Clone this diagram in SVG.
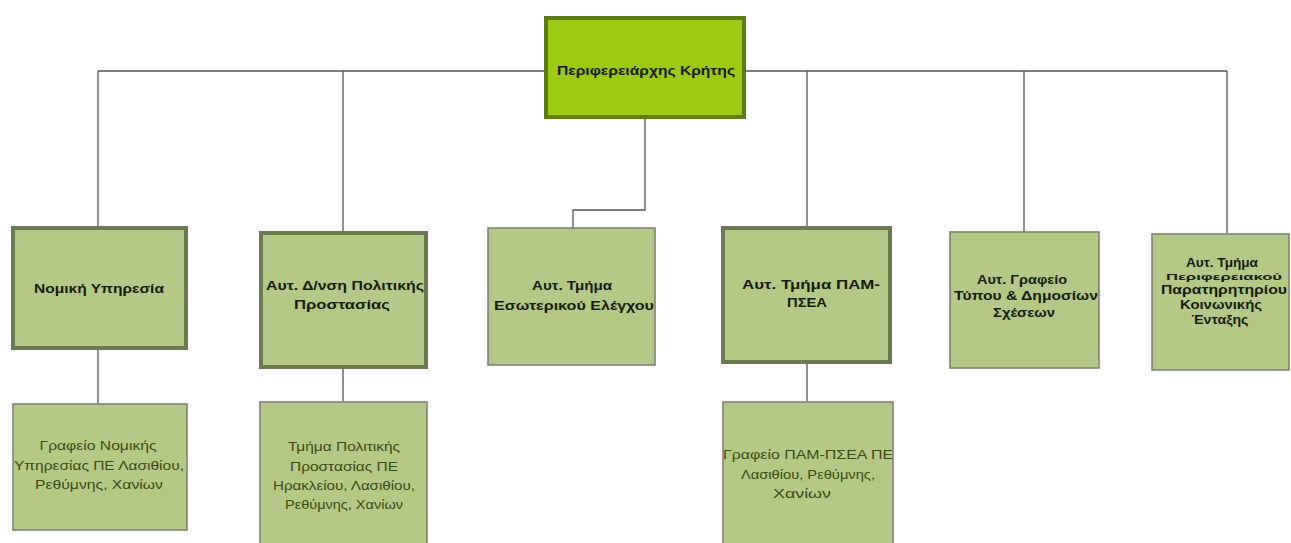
<svg xmlns="http://www.w3.org/2000/svg" width="1291" height="543" viewBox="0 0 1291 543">
<style>
.top{fill:#9ccb14;stroke:#5d7c12;stroke-width:4}
.thick{fill:#b4c985;stroke:#6b7a4e;stroke-width:4}
.thin{fill:#b4c985;stroke:#7f8271;stroke-width:1.6}
.b{font-family:"Liberation Sans",Arial,sans-serif;font-weight:bold;font-size:12px;fill:#141c05;text-anchor:middle}
.s{font-family:"Liberation Sans",Arial,sans-serif;font-weight:bold;font-size:9px;fill:#141c05;text-anchor:middle}
.r{font-family:"Liberation Sans",Arial,sans-serif;font-size:12.5px;fill:#3a4a16;text-anchor:middle}
.c{fill:none;stroke:#555;stroke-width:1.3}
</style>
<g id="connectors">
<path class="c" d="M98 71H545M745 71H1227"/>
<path class="c" d="M98 71V228M343 71V232M807 71V227M1024 71V232M1227 71V233"/>
<path class="c" d="M645 118V210H573V228"/>
<path class="c" d="M98 349V404M343 368V401M807 363V401"/>
</g>
<g id="n0"><rect class="top" x="546" y="18" width="198" height="99"/>
<text class="b" x="646" y="75" textLength="178" lengthAdjust="spacingAndGlyphs">Περιφερειάρχης Κρήτης</text></g>
<g id="n1"><rect class="thick" x="13" y="228" width="173" height="120"/>
<text class="b" x="99" y="293" textLength="130" lengthAdjust="spacingAndGlyphs">Νομική Υπηρεσία</text></g>
<g id="n2"><rect class="thick" x="261" y="233" width="165" height="134"/>
<text class="b" x="345" y="290" textLength="158" lengthAdjust="spacingAndGlyphs">Αυτ. Δ/νση Πολιτικής</text>
<text class="b" x="342" y="309" textLength="96" lengthAdjust="spacingAndGlyphs">Προστασίας</text></g>
<g id="n3"><rect class="thin" x="488" y="228" width="167" height="137"/>
<text class="b" x="572" y="290" textLength="80" lengthAdjust="spacingAndGlyphs">Αυτ. Τμήμα</text>
<text class="b" x="574" y="310" textLength="160" lengthAdjust="spacingAndGlyphs">Εσωτερικού Ελέγχου</text></g>
<g id="n4"><rect class="thick" x="723" y="228" width="167" height="134"/>
<text class="b" x="811" y="289" textLength="138" lengthAdjust="spacingAndGlyphs">Αυτ. Τμήμα ΠΑΜ-</text>
<text class="b" x="807" y="307" textLength="40" lengthAdjust="spacingAndGlyphs">ΠΣΕΑ</text></g>
<g id="n5"><rect class="thin" x="950" y="232" width="149" height="136"/>
<text class="b" x="1022" y="284" textLength="90" lengthAdjust="spacingAndGlyphs">Αυτ. Γραφείο</text>
<text class="b" x="1026" y="300" textLength="144" lengthAdjust="spacingAndGlyphs">Τύπου &amp; Δημοσίων</text>
<text class="b" x="1024" y="317" textLength="62" lengthAdjust="spacingAndGlyphs">Σχέσεων</text></g>
<g id="n6"><rect class="thin" x="1152" y="234" width="137" height="136"/>
<text class="b" x="1222" y="267" textLength="72" lengthAdjust="spacingAndGlyphs">Αυτ. Τμήμα</text>
<text class="s" x="1224" y="280" textLength="116" lengthAdjust="spacingAndGlyphs">Περιφερειακού</text>
<text class="b" x="1224" y="294" textLength="126" lengthAdjust="spacingAndGlyphs">Παρατηρητηρίου</text>
<text class="b" x="1221" y="309" textLength="82" lengthAdjust="spacingAndGlyphs">Κοινωνικής</text>
<text class="b" x="1220" y="324" textLength="57" lengthAdjust="spacingAndGlyphs">Ένταξης</text></g>
<g id="n7"><rect class="thin" x="13" y="404" width="174" height="126"/>
<text class="r" x="98" y="450" textLength="117" lengthAdjust="spacingAndGlyphs">Γραφείο Νομικής</text>
<text class="r" x="99" y="470" textLength="170" lengthAdjust="spacingAndGlyphs">Υπηρεσίας ΠΕ Λασιθίου,</text>
<text class="r" x="99" y="489" textLength="128" lengthAdjust="spacingAndGlyphs">Ρεθύμνης, Χανίων</text></g>
<g id="n8"><rect class="thin" x="260" y="402" width="167" height="145"/>
<text class="r" x="344" y="451" textLength="112" lengthAdjust="spacingAndGlyphs">Τμήμα Πολιτικής</text>
<text class="r" x="344" y="471" textLength="108" lengthAdjust="spacingAndGlyphs">Προστασίας ΠΕ</text>
<text class="r" x="344" y="490" textLength="142" lengthAdjust="spacingAndGlyphs">Ηρακλείου, Λασιθίου,</text>
<text class="r" x="344" y="509" textLength="118" lengthAdjust="spacingAndGlyphs">Ρεθύμνης, Χανίων</text></g>
<g id="n9"><rect class="thin" x="723" y="402" width="170" height="145"/>
<text class="r" x="808" y="459" textLength="170" lengthAdjust="spacingAndGlyphs">Γραφείο ΠΑΜ-ΠΣΕΑ ΠΕ</text>
<text class="r" x="808" y="479" textLength="134" lengthAdjust="spacingAndGlyphs">Λασιθίου, Ρεθύμνης,</text>
<text class="r" x="802" y="498" textLength="58" lengthAdjust="spacingAndGlyphs">Χανίων</text></g>
</svg>
